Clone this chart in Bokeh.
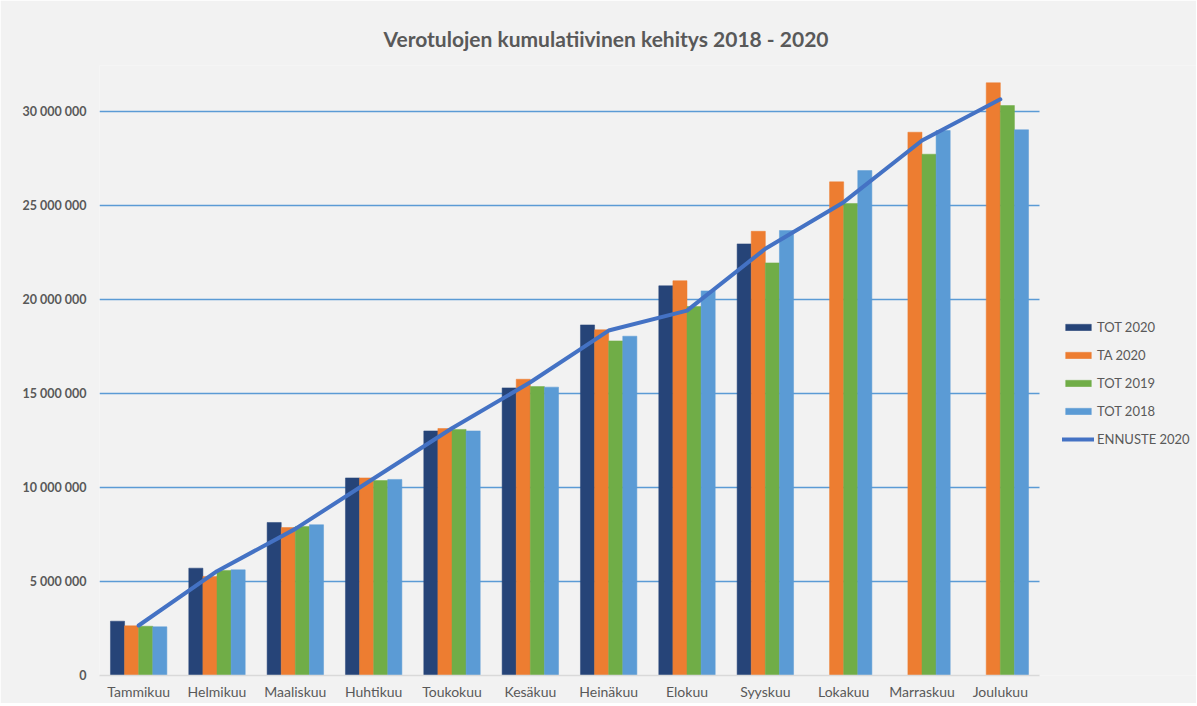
from bokeh.plotting import figure
from bokeh.models import ColumnDataSource, Range1d, FixedTicker, Legend, LegendItem
from bokeh.transform import dodge
from bokeh.embed import file_html
from bokeh.resources import INLINE

nan = float("nan")

months = ["Tammikuu", "Helmikuu", "Maaliskuu", "Huhtikuu", "Toukokuu", "Kesäkuu",
          "Heinäkuu", "Elokuu", "Syyskuu", "Lokakuu", "Marraskuu", "Joulukuu"]
tot2020 = [2890000, 5710000, 8140000, 10510000, 13010000, 15300000,
           18650000, 20730000, 22960000, nan, nan, nan]
ta2020 = [2640000, 5270000, 7870000, 10510000, 13140000, 15760000,
          18390000, 21000000, 23630000, 26260000, 28900000, 31530000]
tot2019 = [2620000, 5590000, 7930000, 10370000, 13090000, 15370000,
           17800000, 19630000, 21950000, 25110000, 27730000, 30320000]
tot2018 = [2590000, 5620000, 8020000, 10430000, 13010000, 15340000,
           18050000, 20460000, 23670000, 26860000, 28990000, 29030000]
ennuste2020 = [2660000, 5550000, 7800000, 10480000, 13150000, 15600000,
               18350000, 19410000, 22700000, 25180000, 28460000, 30650000]
y_ticks = [0, 5000000, 10000000, 15000000, 20000000, 25000000, 30000000]

idx = list(range(len(months)))
src = ColumnDataSource(dict(i=idx, month=months, tot2020=tot2020, ta2020=ta2020,
                            tot2019=tot2019, tot2018=tot2018, ennuste=ennuste2020))

BG = "#F2F2F2"
TXT = "#595959"
FONT = "Lato"

W, H = 1196, 703
LEFT = 99
cat_px = 940 / 12.0
x_end = -0.5 + (W - LEFT) / cat_px

p = figure(width=W, height=H, output_backend="svg", toolbar_location=None,
           x_range=Range1d(-0.5, x_end), y_range=Range1d(0, 32450000),
           background_fill_color=BG, border_fill_color=BG,
           min_border_left=LEFT, min_border_right=0, min_border_top=65, min_border_bottom=28)
p.outline_line_color = None

p.title.text = "Verotulojen kumulatiivinen kehitys 2018 - 2020"
p.title.align = "left"
p.title.offset = 284
p.title.standoff = 29
p.title.text_font = FONT
p.title.text_font_size = "21px"
p.title.text_font_style = "bold"
p.title.text_color = TXT

bw = 0.18
specs = [("tot2020", -0.27, "#264478", "TOT 2020"),
         ("ta2020", -0.09, "#ED7D31", "TA 2020"),
         ("tot2019", 0.09, "#70AD47", "TOT 2019"),
         ("tot2018", 0.27, "#5B9BD5", "TOT 2018")]
items = []
for col, off, color, name in specs:
    r = p.vbar(x=dodge("i", off), top=col, width=bw, bottom=0,
               source=src, fill_color=color, line_color=color, line_width=0.5)
    items.append(LegendItem(label=name, renderers=[r]))

ln = p.line(x="i", y="ennuste", source=src, line_color="#4472C4", line_width=4,
            line_cap="round", line_join="round")
items.append(LegendItem(label="ENNUSTE 2020", renderers=[ln]))

# axes
p.yaxis.ticker = FixedTicker(ticks=y_ticks)
p.yaxis.major_label_overrides = {t: f"{t:,}".replace(",", " ") for t in y_ticks}
p.yaxis.axis_line_color = None
p.yaxis.major_tick_line_color = None
p.yaxis.minor_tick_line_color = None
p.yaxis.major_tick_out = 0
p.yaxis.major_tick_in = 0
p.yaxis.minor_tick_out = 0
p.yaxis.major_label_text_font = FONT
p.yaxis.major_label_text_font_size = "12.5px"
p.yaxis.major_label_text_font_style = "bold"
p.yaxis.major_label_text_color = TXT
p.yaxis.major_label_standoff = 13

p.xaxis.ticker = FixedTicker(ticks=idx)
p.xaxis.major_label_overrides = {i: m for i, m in zip(idx, months)}
p.xaxis.bounds = (-0.5, len(months) - 0.5)
p.xaxis.axis_line_color = "#D9D9D9"
p.xaxis.axis_line_width = 1.5
p.xaxis.major_tick_line_color = None
p.xaxis.minor_tick_line_color = None
p.xaxis.major_tick_out = 0
p.xaxis.major_tick_in = 0
p.xaxis.minor_tick_out = 0
p.xaxis.minor_tick_in = 0
p.xaxis.major_label_text_font = FONT
p.xaxis.major_label_text_font_size = "14px"
p.xaxis.major_label_text_color = TXT
p.xaxis.major_label_standoff = 7

p.xgrid.grid_line_color = None
p.ygrid.grid_line_color = "#5B9BD5"
p.ygrid.grid_line_width = 1.5
p.ygrid.ticker = FixedTicker(ticks=y_ticks[1:])
p.ygrid.cross_bounds = (-0.5, len(months) - 0.5)

legend = Legend(items=items, location=(963, 228), orientation="vertical",
                glyph_width=32, glyph_height=8, label_height=8, spacing=12,
                label_standoff=3, padding=0, margin=0,
                label_text_font=FONT, label_text_font_size="13px", label_text_color=TXT,
                background_fill_alpha=0, border_line_color=None)
p.add_layout(legend, "center")

open("out.html", "w").write(file_html(p, INLINE))
